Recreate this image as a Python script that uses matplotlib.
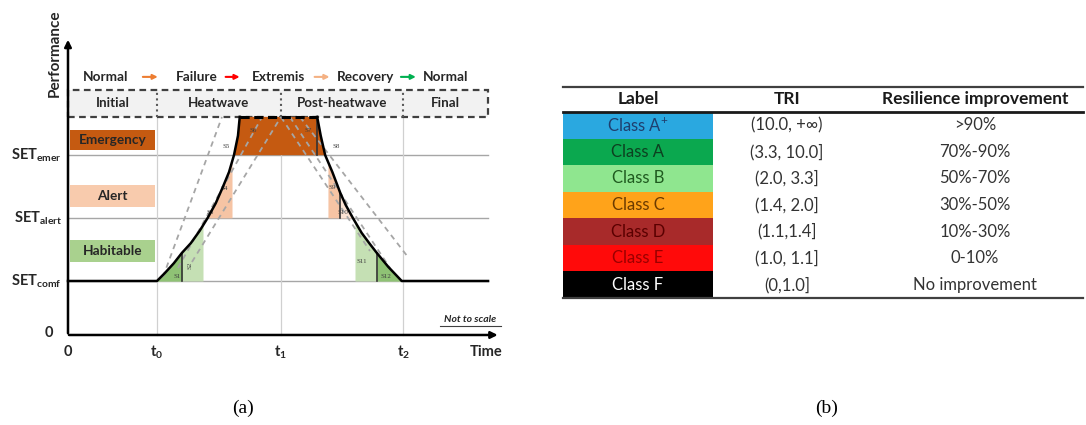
import numpy as np
import matplotlib.pyplot as plt
from matplotlib.patches import Rectangle

plt.rcParams['font.family'] = ['Lato', 'DejaVu Sans']
plt.rcParams['mathtext.fontset'] = 'custom'
plt.rcParams['mathtext.rm'] = 'Lato'
plt.rcParams['mathtext.bf'] = 'Lato:bold'
plt.rcParams['mathtext.it'] = 'Lato:italic'

# ---- panel (a) data ----
t_ticks = [0.0, 1.0, 2.39, 3.77]
t_labels = ['0', r'$\mathbf{t_0}$', r'$\mathbf{t_1}$', r'$\mathbf{t_2}$']
set_levels = [1.0, 2.17, 3.33]
set_labels = [r'$\mathbf{SET_{comf}}$', r'$\mathbf{SET_{alert}}$', r'$\mathbf{SET_{emer}}$']
peak = 4.04
t_end = 4.72

rise_x = np.array([1.0, 1.09, 1.19, 1.28, 1.38, 1.48, 1.57, 1.66, 1.74, 1.81, 1.865, 1.91, 1.93])
rise_y = np.array([1.0, 1.15, 1.33, 1.52, 1.70, 1.93, 2.17, 2.44, 2.74, 3.02, 3.33, 3.69, 4.04])
fall_x = np.array([2.80, 2.84, 2.89, 2.97, 3.06, 3.12, 3.20, 3.30, 3.39, 3.47, 3.60, 3.75])
fall_y = np.array([4.04, 3.69, 3.33, 3.02, 2.63, 2.41, 2.17, 1.89, 1.69, 1.52, 1.26, 1.0])

# dashed helper lines (start x, start y, end x, end y)
dash_x0 = [1.067, 1.236, 1.393, 2.393, 2.494, 2.607]
dash_y0 = [1.074, 1.241, 1.352, 4.037, 4.037, 4.037]
dash_x1 = [1.730, 2.180, 2.393, 3.393, 3.618, 3.820]
dash_y1 = [4.037, 4.037, 4.037, 1.556, 1.241, 1.444]

zones = ['Emergency', 'Alert', 'Habitable']
zone_lo = [3.42, 2.37, 1.35]
zone_hi = [3.79, 2.78, 1.76]
zone_colors = ['#C55A11', '#F8CBAD', '#A9D18E']

phases = ['Initial', 'Heatwave', 'Post-heatwave', 'Final']
phase_edges = [0.0, 1.0, 2.39, 3.77, 4.72]

states = ['Normal', 'Failure', 'Extremis', 'Recovery', 'Normal']
state_x = [0.42, 1.45, 2.36, 3.34, 4.24]
arrow_x0 = [0.81, 1.74, 2.74, 3.71]
arrow_x1 = [1.04, 1.96, 2.97, 3.94]
arrow_colors = ['#ED7D31', '#FF0000', '#F4B183', '#00B050']

s_names = ['S1', 'S2', 'S3', 'S4', 'S5', 'S6', 'S7', 'S8', 'S9', 'S10', 'S11', 'S12']
s_x = [1.225, 1.371, 1.596, 1.753, 1.775, 2.079, 2.697, 3.011, 2.966, 3.090, 3.303, 3.573]
s_y = [1.074, 1.296, 2.26, 2.72, 3.50, 3.78, 3.78, 3.50, 2.74, 2.26, 1.352, 1.074]
s_rot = [0, 90, 0, 0, 0, 0, 0, 0, 0, 0, 0, 0]

# ---- panel (b) data ----
classes = ['Class A$^{+}$', 'Class A', 'Class B', 'Class C', 'Class D', 'Class E', 'Class F']
class_colors = ['#2AA8E0', '#0BA84F', '#8FE68F', '#FFA31A', '#A82A2A', '#FF0A0A', '#000000']
class_text = ['#1F3F6E', '#0D4020', '#1F5A1F', '#6B3A00', '#5A0000', '#9A0000', '#FFFFFF']
tri = ['(10.0, +\u221e)', '(3.3, 10.0]', '(2.0, 3.3]', '(1.4, 2.0]', '(1.1,1.4]', '(1.0, 1.1]', '(0,1.0]']
improvement = ['>90%', '70%-90%', '50%-70%', '30%-50%', '10%-30%', '0-10%', 'No improvement']

fig = plt.figure(figsize=(10.86, 4.25), dpi=100)

# ================= panel (a) =================
ax = fig.add_axes([0, 0, 545 / 1086, 1])
ax.set_xlim(-0.764, 5.36)
ax.set_ylim(-1.667, 6.204)
ax.axis('off')

# header band
ax.add_patch(Rectangle((0, peak), t_end, 0.5, facecolor='#F2F2F2', edgecolor='#404040',
                       lw=1.6, ls=(0, (3, 2)), zorder=2))
for xe in phase_edges[1:-1]:
    ax.plot([xe, xe], [peak, peak + 0.5], color='#595959', lw=1.5, ls=':', zorder=3)
for i, ph in enumerate(phases):
    ax.text((phase_edges[i] + phase_edges[i + 1]) / 2, peak + 0.25, ph, ha='center', va='center',
            fontsize=9.6, fontweight='bold', color='#262626', zorder=4)

# state legend row
for sx, st in zip(state_x, states):
    ax.text(sx, 4.78, st, ha='center', va='center', fontsize=9.8, fontweight='bold', color='#262626')
for a0, a1, c in zip(arrow_x0, arrow_x1, arrow_colors):
    ax.annotate('', xy=(a1, 4.78), xytext=(a0, 4.78),
                arrowprops=dict(arrowstyle='-|>', color=c, lw=1.5, mutation_scale=7))

# grid lines
for lv in set_levels:
    ax.plot([0, t_end], [lv, lv], color='#A6A6A6', lw=1.0, zorder=1)
for tt in t_ticks[1:]:
    ax.plot([tt, tt], [0, peak], color='#D0D0D0', lw=0.9, zorder=1)

# zone boxes
for name, lo, hi, c in zip(zones, zone_lo, zone_hi, zone_colors):
    ax.add_patch(Rectangle((0.022, lo), 0.956, hi - lo, facecolor=c, edgecolor='none', zorder=2))
    ax.text(0.5, (lo + hi) / 2, name, ha='center', va='center', fontsize=9.8,
            fontweight='bold', color='#262626', zorder=3)

comf, alert, emer = set_levels
# fills - rising side
r1 = rise_y <= alert + 1e-9
ax.fill_betweenx(rise_y[r1], rise_x[r1], 1.517, where=rise_x[r1] <= 1.517, interpolate=True,
                 color='#C5E0B4', lw=0, zorder=2)
ax.fill_betweenx(rise_y[r1], rise_x[r1], 1.281, where=rise_x[r1] <= 1.281, interpolate=True,
                 color='#8FC275', lw=0, zorder=2)
r2 = (rise_y >= alert - 1e-9) & (rise_y <= emer + 1e-9)
ax.fill_betweenx(rise_y[r2], rise_x[r2], 1.843, where=rise_x[r2] <= 1.843, interpolate=True,
                 color='#F6C4A4', lw=0, zorder=2)
# emergency block
ax.fill(np.r_[rise_x[rise_y >= emer], fall_x[fall_y >= emer]],
        np.r_[rise_y[rise_y >= emer], fall_y[fall_y >= emer]], color='#C55A11', lw=0, zorder=2)
# fills - falling side
f2 = (fall_y >= alert - 1e-9) & (fall_y <= emer + 1e-9)
ax.fill_betweenx(fall_y[f2], 2.921, fall_x[f2], where=fall_x[f2] >= 2.921, interpolate=True,
                 color='#F6C4A4', lw=0, zorder=2)
f3 = (fall_y >= alert - 1e-9) & (fall_y <= 2.63 + 1e-9)
ax.fill_betweenx(fall_y[f3], 3.056, fall_x[f3], color='#FBE3D3', lw=0, zorder=2)
f1 = fall_y <= alert + 1e-9
ax.fill_betweenx(fall_y[f1], 3.225, fall_x[f1], where=fall_x[f1] >= 3.225, interpolate=True,
                 color='#C5E0B4', lw=0, zorder=2)
ax.fill_betweenx(fall_y[f1], 3.472, fall_x[f1], where=fall_x[f1] >= 3.472, interpolate=True,
                 color='#8FC275', lw=0, zorder=2)

# divider lines inside the fills
for vx, v0, v1 in [(1.281, comf, 1.52), (3.472, comf, 1.52), (3.056, alert, 2.63), (2.798, emer, peak)]:
    ax.plot([vx, vx], [v0, v1], color='#333333', lw=1.2, zorder=4)

# dashed helper lines
for x0, y0, x1, y1 in zip(dash_x0, dash_y0, dash_x1, dash_y1):
    ax.plot([x0, x1], [y0, y1], color='#A6A6A6', lw=1.3, ls=(0, (3, 2.5)), zorder=3)

# S labels
for nm, sx, sy, rot in zip(s_names, s_x, s_y, s_rot):
    ax.text(sx, sy, nm, ha='center', va='center', fontsize=5, rotation=rot,
            family='Liberation Serif', color='#404040', zorder=5)

# performance curve
ax.plot(np.r_[0, rise_x], np.r_[comf, rise_y], color='black', lw=1.8, zorder=5)
ax.plot(np.r_[fall_x, t_end], np.r_[fall_y, comf], color='black', lw=1.8, zorder=5)
ax.plot([rise_x[-1], fall_x[0]], [peak, peak], color='black', lw=2.2, ls=(0, (3, 1.5)), zorder=5)

# axes with arrows
ax.annotate('', xy=(0, 5.52), xytext=(0, -0.02),
            arrowprops=dict(arrowstyle='-|>', color='black', lw=1.8, mutation_scale=10), zorder=6)
ax.annotate('', xy=(4.86, 0), xytext=(-0.02, 0),
            arrowprops=dict(arrowstyle='-|>', color='black', lw=1.8, mutation_scale=10), zorder=6)
ax.text(-0.15, 5.22, 'Performance', rotation=90, ha='center', va='center', fontsize=11,
        fontweight='bold', color='#262626')
ax.text(4.70, -0.315, 'Time', ha='center', va='center', fontsize=10.5, fontweight='bold', color='#262626')
for tt, tl in zip(t_ticks, t_labels):
    ax.text(tt, -0.315, tl, ha='center', va='center', fontsize=10.5, fontweight='bold', color='#262626')
ax.text(-0.22, 0.03, '0', ha='center', va='center', fontsize=10.5, fontweight='bold', color='#262626')
for lv, sl in zip(set_levels, set_labels):
    ax.text(-0.07, lv, sl, ha='right', va='center', fontsize=10.5, color='#262626')
ax.text(4.52, 0.29, 'Not to scale', ha='center', va='center', fontsize=7.5, fontweight='bold',
        style='italic', color='#262626')
ax.plot([4.18, 4.87], [0.17, 0.17], color='#404040', lw=0.8)

# ================= panel (b) =================
h0 = 0.94
ax2 = fig.add_axes([563 / 1086, (425 - 298) / 425, (1083 - 563) / 1086, (298 - 87) / 425])
ax2.set_xlim(0, 1)
ax2.set_ylim(h0 + len(classes), 0)
ax2.axis('off')
col1_w = 0.288
for txt, xc in zip(['Label', 'TRI', 'Resilience improvement'], [0.144, 0.431, 0.792]):
    ax2.text(xc, h0 / 2, txt, ha='center', va='center', fontsize=12.5, fontweight='bold', color='#1A1A1A')
for i, (cl, cc, tc, tr, im) in enumerate(zip(classes, class_colors, class_text, tri, improvement)):
    ax2.add_patch(Rectangle((0, h0 + i), col1_w, 1, facecolor=cc, edgecolor='none'))
    ax2.text(0.144, h0 + i + 0.5, cl, ha='center', va='center', fontsize=12, color=tc)
    ax2.text(0.431, h0 + i + 0.5, tr, ha='center', va='center', fontsize=12, color='#333333')
    ax2.text(0.792, h0 + i + 0.5, im, ha='center', va='center', fontsize=12, color='#333333')
ax2.plot([0, 1], [0, 0], color='#404040', lw=1.6, clip_on=False)
ax2.plot([0, 1], [h0, h0], color='#1A1A1A', lw=2.0, clip_on=False)
ax2.plot([0, 1], [h0 + len(classes)] * 2, color='#404040', lw=1.6, clip_on=False)

fig.text(243 / 1086, 1 - 408 / 425, '(a)', ha='center', va='center', fontsize=14, family='Liberation Serif')
fig.text(827 / 1086, 1 - 408 / 425, '(b)', ha='center', va='center', fontsize=14, family='Liberation Serif')

fig.savefig('out.png', dpi=100)
